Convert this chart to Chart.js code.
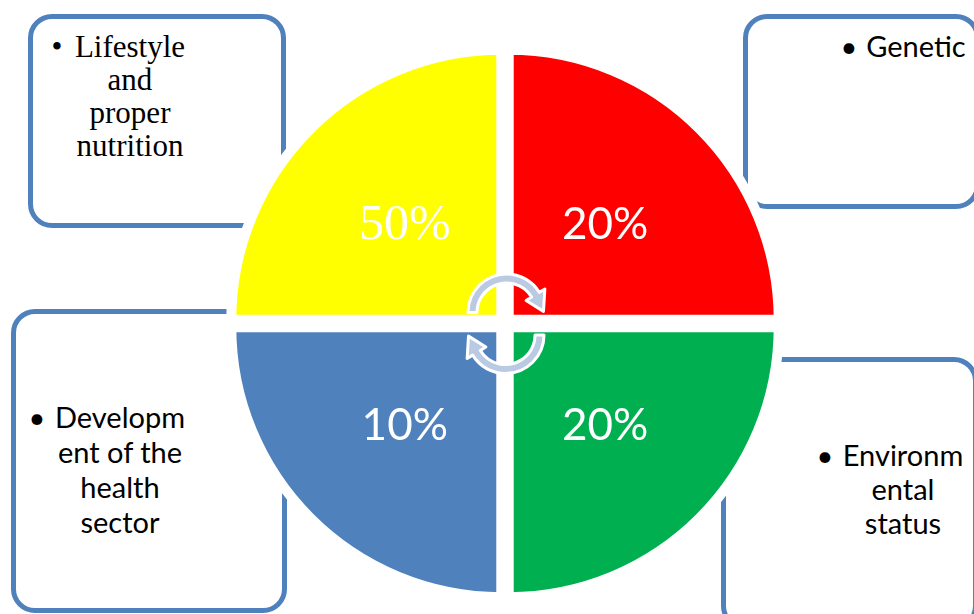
<!DOCTYPE html>
<html>
<head>
<meta charset="utf-8">
<script src="https://cdn.jsdelivr.net/npm/chart.js@4.4.0/dist/chart.umd.min.js"></script>
<style>
html,body{margin:0;padding:0;background:#fff;width:974px;height:614px;overflow:hidden;}
#wrap{position:relative;width:974px;height:614px;overflow:hidden;}
.box{position:absolute;box-sizing:border-box;border:5px solid #4F81BD;border-radius:24px;background:#fff;}
.txt{position:absolute;color:#000;white-space:nowrap;text-align:center;width:240px;}
.bul{position:absolute;color:#000;white-space:nowrap;text-align:center;width:20px;}
.sans{font-family:Lato,"Open Sans",sans-serif;font-size:29px;}
.serif{font-family:"Liberation Serif","Times New Roman",serif;font-size:31px;}
#c{position:absolute;left:0;top:0;}
</style>
</head>
<body>
<div id="wrap">
  <div id="boxes"></div>
  <canvas id="c" width="974" height="614"></canvas>
</div>
<script>
// ---- data ----
const categories = ['Lifestyle and proper nutrition', 'Genetic', 'Environmental status', 'Development of the health sector'];
const shares = [50, 20, 20, 10];            // percentage shown in each quadrant
const quadrantSize = [1, 1, 1, 1];          // every factor is drawn as an equal quadrant
const categoryLines = [
  ['Lifestyle', 'and', 'proper', 'nutrition'],
  ['Genetic'],
  ['Environm', 'ental', 'status'],
  ['Developm', 'ent of the', 'health', 'sector']
];

// ---- styling / layout ----
const sliceColors = ['#FFFF00', '#FF0000', '#00B050', '#4F81BD'];
const labelFonts = ['"Liberation Serif", "Times New Roman", serif', 'Lato, sans-serif', 'Lato, sans-serif', 'Lato, sans-serif'];
const labelSizes = [50, 44, 44, 44];
const boxRects = [
  {l: 28, t: 14, r: 286, b: 228},
  {l: 743, t: 14, r: 980, b: 209},
  {l: 721, t: 357, r: 978, b: 630},
  {l: 11, t: 309, r: 287, b: 613}
];
const textLayout = [
  {cls: 'serif', cx: 130, top: 30, lh: 33, bx: 57},
  {cls: 'sans', cx: 916, top: 28, lh: 35, bx: 849},
  {cls: 'sans', cx: 903, top: 438, lh: 34, bx: 825},
  {cls: 'sans', cx: 120, top: 399, lh: 35, bx: 37}
];

// boxes and their text (behind the pie)
const boxesEl = document.getElementById('boxes');
boxRects.forEach((b) => {
  const d = document.createElement('div');
  d.className = 'box';
  d.style.left = b.l + 'px'; d.style.top = b.t + 'px';
  d.style.width = (b.r - b.l) + 'px'; d.style.height = (b.b - b.t) + 'px';
  boxesEl.appendChild(d);
});
categoryLines.forEach((lines, i) => {
  const L = textLayout[i];
  const t = document.createElement('div');
  t.className = 'txt ' + L.cls;
  t.style.left = (L.cx - 120) + 'px';
  t.style.top = L.top + 'px';
  t.style.lineHeight = L.lh + 'px';
  t.innerHTML = lines.join('<br>');
  t.title = categories[i];
  boxesEl.appendChild(t);
  const bu = document.createElement('div');
  bu.className = 'bul ' + L.cls;
  bu.style.left = (L.bx - 10) + 'px';
  bu.style.top = L.top + 'px';
  bu.style.lineHeight = L.lh + 'px';
  bu.textContent = '\u2022';
  boxesEl.appendChild(bu);
});

// percentage labels inside quadrants
const shareLabelPlugin = {
  id: 'shareLabels',
  afterDatasetsDraw(chart) {
    const ctx = chart.ctx;
    const meta = chart.getDatasetMeta(0);
    meta.data.forEach((arc, i) => {
      const p = arc.getProps(['x', 'y', 'startAngle', 'endAngle', 'outerRadius'], true);
      const mid = (p.startAngle + p.endAngle) / 2;
      const d = p.outerRadius * 0.525;
      const px = p.x + Math.cos(mid) * d;
      const py = p.y + Math.sin(mid) * d;
      ctx.save();
      ctx.font = labelSizes[i] + 'px ' + labelFonts[i];
      ctx.fillStyle = '#ffffff';
      ctx.textAlign = 'center';
      ctx.textBaseline = 'alphabetic';
      const txt = shares[i] + '%';
      const m = ctx.measureText(txt);
      const asc = m.actualBoundingBoxAscent, desc = m.actualBoundingBoxDescent;
      ctx.fillText(txt, px, py + (asc - desc) / 2);
      ctx.restore();
    });
  }
};

function cycleArrow(ctx, cx, cy, r, a0, a1, tipA) {
  const w = 4.5, hw = 11;
  ctx.beginPath();
  ctx.arc(cx, cy, r + w, a0, a1, false);
  ctx.lineTo(cx + Math.cos(a1) * (r + hw), cy + Math.sin(a1) * (r + hw));
  ctx.lineTo(cx + Math.cos(tipA) * (r + 3), cy + Math.sin(tipA) * (r + 3));
  ctx.lineTo(cx + Math.cos(a1) * (r - hw), cy + Math.sin(a1) * (r - hw));
  ctx.lineTo(cx + Math.cos(a1) * (r - w), cy + Math.sin(a1) * (r - w));
  ctx.arc(cx, cy, r - w, a1, a0, true);
  ctx.closePath();
  ctx.fillStyle = '#BACAE2';
  ctx.fill();
  ctx.lineWidth = 3;
  ctx.lineJoin = 'round';
  ctx.strokeStyle = '#ffffff';
  ctx.stroke();
}

const cycleArrowPlugin = {
  id: 'cycleArrows',
  afterDatasetsDraw(chart) {
    const arc = chart.getDatasetMeta(0).data[0];
    if (!arc) return;
    const cx = arc.x, cy = arc.y;
    const ctx = chart.ctx;
    ctx.save();
    cycleArrow(ctx, cx + 1.5, cy - 11, 34, Math.PI, 2 * Math.PI - 0.55, 2 * Math.PI - 0.03);
    cycleArrow(ctx, cx + 0.5, cy + 11.5, 34, 0, Math.PI - 0.55, Math.PI - 0.03);
    ctx.restore();
  }
};

function draw() {
  new Chart(document.getElementById('c').getContext('2d'), {
    type: 'pie',
    data: {
      labels: categories,
      datasets: [{
        data: quadrantSize,
        backgroundColor: sliceColors,
        borderColor: '#ffffff',
        borderWidth: 10,
        offset: 21,
        hoverOffset: 0,
        clip: false
      }]
    },
    options: {
      responsive: false,
      animation: false,
      events: [],
      rotation: -90,
      radius: 270,
      layout: {padding: {left: 36, top: 33, right: 0, bottom: 0}},
      plugins: {legend: {display: false}, tooltip: {enabled: false}}
    },
    plugins: [cycleArrowPlugin, shareLabelPlugin]
  });
}

Promise.all([
  document.fonts.load('44px Lato'),
  document.fonts.load('50px "Liberation Serif"')
]).then(draw, draw);
</script>
</body>
</html>
